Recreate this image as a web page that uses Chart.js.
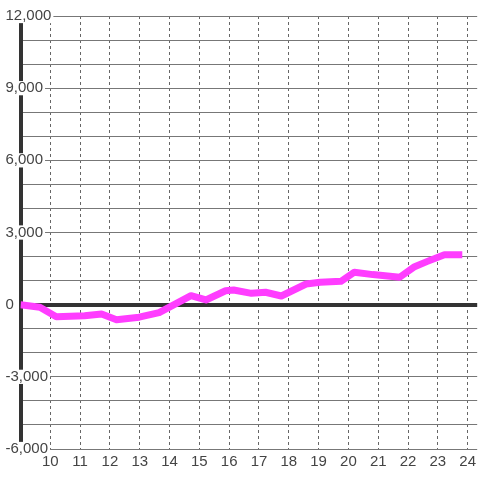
<!DOCTYPE html>
<html>
<head>
<meta charset="utf-8">
<script src="https://cdn.jsdelivr.net/npm/chart.js@4/dist/chart.umd.min.js"></script>
<style>
  body { margin: 0; background: #fff; }
  #chart { display: block; }
</style>
</head>
<body>
<canvas id="chart" width="480" height="480"></canvas>
<script>
// hour of day for each reading
const hours = [9.0, 9.65, 10.2, 11.15, 11.72, 12.22, 12.98, 13.65, 14.72, 15.22,
               15.88, 16.15, 16.75, 17.22, 17.75, 18.58, 19.05, 19.75, 20.2, 20.82,
               21.72, 22.22, 22.65, 23.22, 23.82];
// running value at each reading
const values = [0, -110, -500, -460, -390, -625, -520, -330, 375, 195,
                580, 610, 470, 515, 360, 860, 930, 970, 1350, 1250,
                1140, 1580, 1800, 2080, 2080];

const xMin = 9, xMax = 24.32;
const yMin = -6000, yMax = 12000;
const labelStep = 3000;

const points = hours.map((h, i) => ({ x: h, y: values[i] }));

const ctx = document.getElementById('chart').getContext('2d');
const myChart = new Chart(ctx, {
    type: 'line',
    data: {
        datasets: [{
            data: points,
            borderColor: '#ff3dff',
            borderWidth: 7,
            borderCapStyle: 'butt',
            borderJoinStyle: 'round',
            pointRadius: 0,
            tension: 0,
            fill: false
        }]
    },
    options: {
        responsive: false,
        animation: false,
        layout: { padding: { left: 5, top: 16, right: 0, bottom: 5 } },
        plugins: { legend: { display: false }, tooltip: { enabled: false } },
        scales: {
            x: {
                type: 'linear',
                min: xMin,
                max: xMax,
                ticks: {
                    stepSize: 1,
                    includeBounds: false,
                    padding: 4,
                    color: '#444',
                    font: { family: "'Liberation Sans', Arial, sans-serif", size: 15 }
                },
                afterBuildTicks: scale => {
                    // whole hours only, the first one sits on the y axis
                    scale.ticks = scale.ticks.filter(t => Number.isInteger(t.value) && t.value > xMin);
                },
                grid: { color: '#666', lineWidth: 1, drawTicks: false },
                border: { display: false, dash: [3, 3] }
            },
            y: {
                min: yMin,
                max: yMax,
                afterFit: scale => { scale.width = 15.5; },
                ticks: {
                    stepSize: 1000,
                    mirror: true,
                    padding: -15,
                    color: '#444',
                    font: { family: "'Liberation Sans', Arial, sans-serif", size: 15, lineHeight: 0.95 },
                    callback: v => v % labelStep === 0 ? v.toLocaleString('en-US') : '',
                    showLabelBackdrop: c => c.tick && c.tick.value % labelStep === 0,
                    backdropColor: '#fff',
                    backdropPadding: { top: 0, bottom: 0, left: 2, right: 2 }
                },
                grid: {
                    color: c => c.tick && c.tick.value === 0 ? '#333' : '#777',
                    lineWidth: c => c.tick && c.tick.value === 0 ? 4 : 1,
                    drawTicks: false
                },
                border: { display: true, color: '#333', width: 4 }
            }
        }
    }
});
</script>
</body>
</html>
